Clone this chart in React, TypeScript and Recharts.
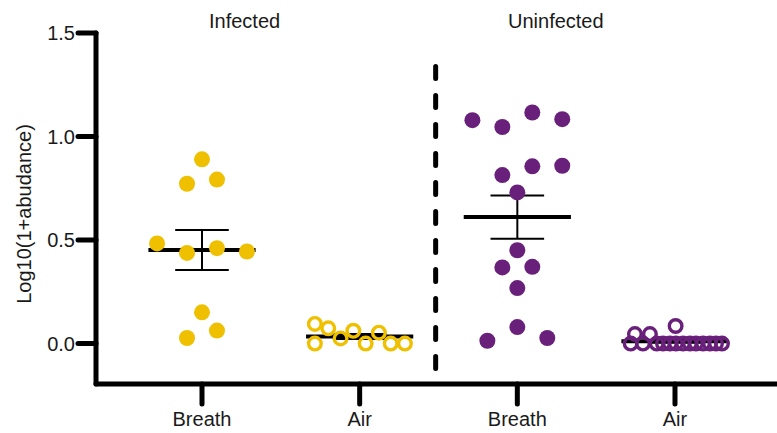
import React from "react";
import {
  ScatterChart,
  Scatter,
  XAxis,
  YAxis,
  ReferenceLine,
} from "recharts";

// group centres on the x axis: 1 = infected breath, 2 = infected air, 3 = uninfected breath, 4 = uninfected air
const categories = ["Breath", "Air", "Breath", "Air"];
const yTicks = [0, 0.5, 1.0, 1.5];

// swarm offsets (in category units) and values
const infectedBreathX = [0, -0.095, 0.095, -0.285, -0.095, 0.095, 0.285, 0, 0.095, -0.095];
const infectedBreathY = [0.89, 0.772, 0.792, 0.484, 0.438, 0.461, 0.445, 0.151, 0.063, 0.027];

const infectedAirX = [-0.284, -0.199, -0.284, -0.121, -0.04, 0.038, 0.122, 0.197, 0.287];
const infectedAirY = [0.095, 0.074, 0, 0.025, 0.062, 0, 0.053, 0, 0];

const uninfectedBreathX = [-0.285, -0.095, 0.095, 0.285, -0.095, 0.095, 0.285, 0, 0, -0.095, 0.095, 0, 0, -0.19, 0.19];
const uninfectedBreathY = [1.079, 1.046, 1.116, 1.084, 0.814, 0.856, 0.859, 0.73, 0.451, 0.368, 0.371, 0.268, 0.08, 0.014, 0.027];

const uninfectedAirX = [-0.254, -0.159, 0.004, -0.281, -0.203, -0.116, -0.076, -0.032, 0.006, 0.051, 0.095, 0.133, 0.178, 0.222, 0.26, 0.298];
const uninfectedAirY = [0.046, 0.046, 0.085, 0, 0, 0, 0, 0, 0, 0, 0, 0, 0, 0, 0, 0];

const GOLD = "#EFC000";
const PURPLE = "#69207A";
const FONT = "'Liberation Sans', Arial, sans-serif";
const MEAN_HALF = 0.34;
const CAP_HALF = 0.17;

type Pt = { x: number; y: number };

function points(center: number, xs: number[], ys: number[]): Pt[] {
  return ys.map((y, i) => ({ x: center + xs[i], y }));
}

// mean line + SEM bar with caps, as separate two-point segments
function meanSem(center: number, ys: number[]): Pt[][] {
  const n = ys.length;
  const mean = ys.reduce((a, b) => a + b, 0) / n;
  const sd = Math.sqrt(ys.reduce((a, b) => a + (b - mean) ** 2, 0) / (n - 1));
  const sem = sd / Math.sqrt(n);
  return [
    [{ x: center - MEAN_HALF, y: mean }, { x: center + MEAN_HALF, y: mean }],
    [{ x: center, y: mean - sem }, { x: center, y: mean + sem }],
    [{ x: center - CAP_HALF, y: mean + sem }, { x: center + CAP_HALF, y: mean + sem }],
    [{ x: center - CAP_HALF, y: mean - sem }, { x: center + CAP_HALF, y: mean - sem }],
  ];
}

const groups = [
  { center: 1, xs: infectedBreathX, ys: infectedBreathY, color: GOLD, open: false },
  { center: 2, xs: infectedAirX, ys: infectedAirY, color: GOLD, open: true },
  { center: 3, xs: uninfectedBreathX, ys: uninfectedBreathY, color: PURPLE, open: false },
  { center: 4, xs: uninfectedAirX, ys: uninfectedAirY, color: PURPLE, open: true },
];

const noShape = () => <g />;

export default function App() {
  return (
    <div style={{ position: "absolute", left: 0, top: 0, width: 777, height: 433, background: "#fff" }}>
      <ScatterChart width={777} height={433} margin={{ top: 33, right: 0, bottom: 0, left: 0 }}>
        <XAxis
          dataKey="x"
          type="number"
          domain={[0.3277, 4.647]}
          allowDataOverflow
          ticks={[1, 2, 3, 4]}
          tickFormatter={(v) => categories[v - 1]}
          height={49}
          tickSize={20}
          tickMargin={8}
          axisLine={{ stroke: "#000", strokeWidth: 5, strokeLinecap: "round" }}
          tickLine={{ stroke: "#000", strokeWidth: 5, strokeLinecap: "round" }}
          tick={{ fill: "#1a1a1a", fontSize: 20, fontFamily: FONT }}
        />
        <YAxis
          dataKey="y"
          type="number"
          domain={[-0.195, 1.5]}
          allowDataOverflow
          ticks={yTicks}
          tickFormatter={(v) => v.toFixed(1)}
          width={96}
          tickSize={18}
          tickMargin={3}
          axisLine={{ stroke: "#000", strokeWidth: 5, strokeLinecap: "round" }}
          tickLine={{ stroke: "#000", strokeWidth: 5, strokeLinecap: "round" }}
          tick={{ fill: "#1a1a1a", fontSize: 20, fontFamily: FONT }}
          label={{
            content: () => (
              <text
                transform="translate(24,214) rotate(-90)"
                textAnchor="middle"
                dominantBaseline="central"
                fontSize={20}
                fontFamily={FONT}
                fill="#1a1a1a"
              >
                Log10(1+abudance)
              </text>
            ),
          }}
        />

        <ReferenceLine
          segment={[{ x: 2.482, y: 1.338 }, { x: 2.482, y: -0.12 }]}
          stroke="#000"
          strokeWidth={5}
          strokeDasharray="12 17"
          strokeLinecap="round"
        />

        {groups.flatMap((g, gi) =>
          meanSem(g.center, g.ys).map((seg, si) => (
            <Scatter
              key={`ms-${gi}-${si}`}
              data={seg}
              line={{ stroke: "#000", strokeWidth: si === 0 ? 4 : 2 }}
              shape={noShape}
              legendType="none"
              isAnimationActive={false}
            />
          ))
        )}

        {groups.map((g, gi) => (
          <Scatter
            key={`pts-${gi}`}
            data={points(g.center, g.xs, g.ys)}
            isAnimationActive={false}
            shape={(p: any) =>
              g.open ? (
                <circle cx={p.cx} cy={p.cy} r={6.3} fill="none" stroke={g.color} strokeWidth={3.4} />
              ) : (
                <circle cx={p.cx} cy={p.cy} r={8} fill={g.color} />
              )
            }
          />
        ))}
      </ScatterChart>
      <svg width={777} height={40} style={{ position: "absolute", left: 0, top: 0 }}>
        <text x={209} y={27.7} fontSize={20} fontFamily={FONT} fill="#1a1a1a">
          Infected
        </text>
        <text x={508} y={27.7} fontSize={20} fontFamily={FONT} fill="#1a1a1a">
          Uninfected
        </text>
      </svg>
    </div>
  );
}
